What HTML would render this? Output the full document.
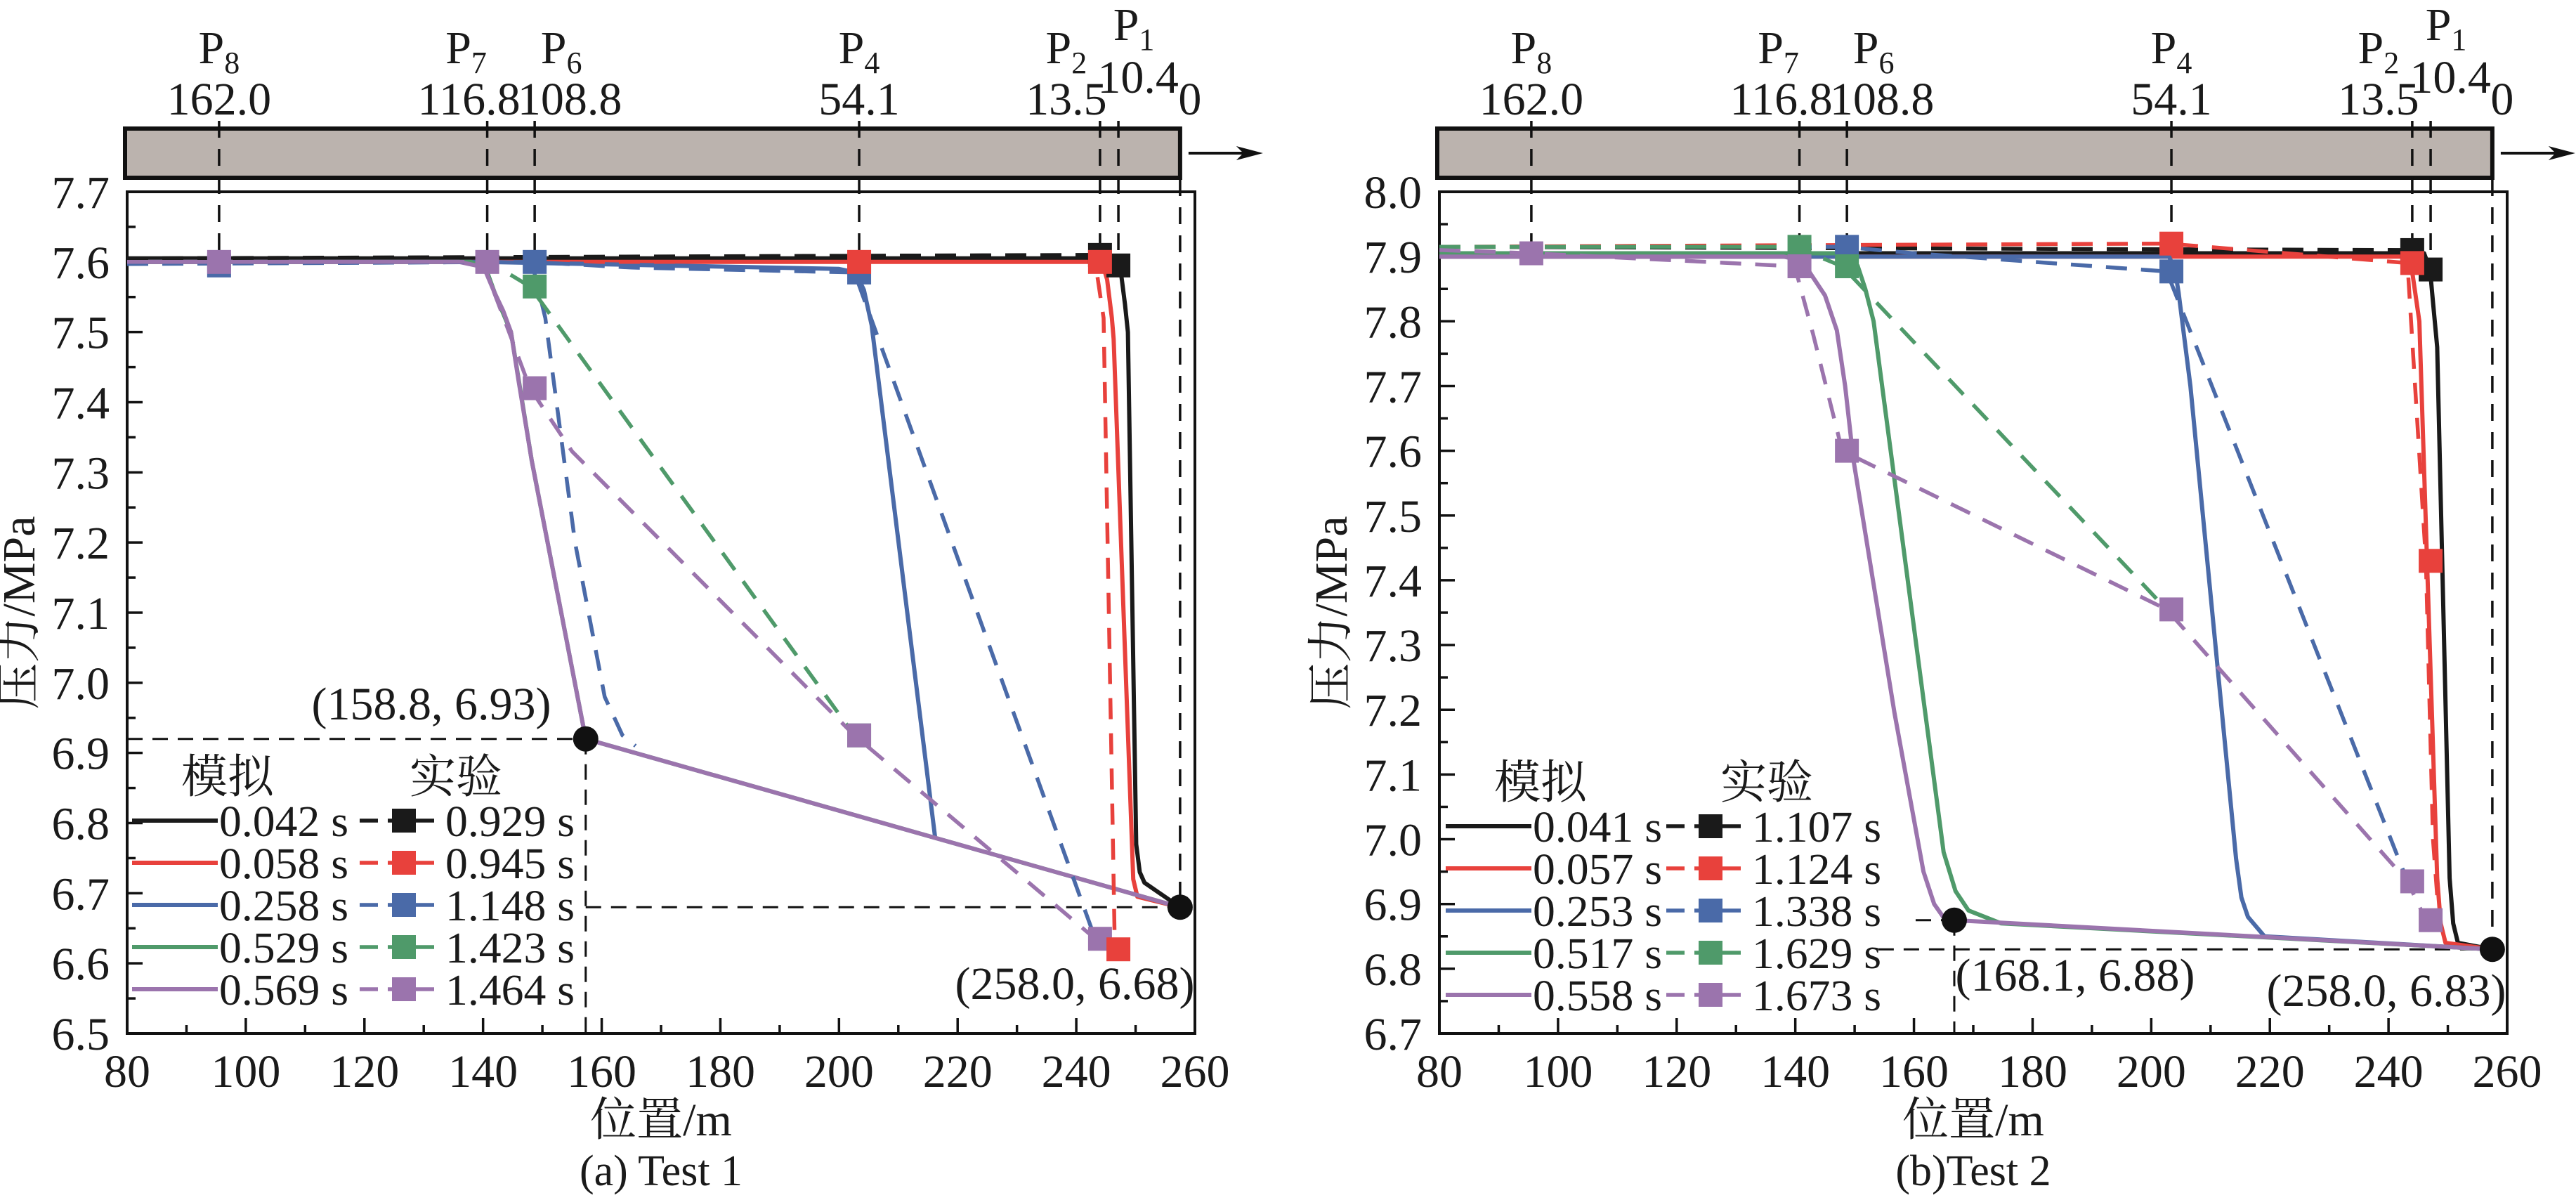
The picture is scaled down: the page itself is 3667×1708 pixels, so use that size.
<!DOCTYPE html>
<html><head><meta charset="utf-8">
<style>
html,body{margin:0;padding:0;background:#fff;}
svg{display:block;}
text{font-family:"Liberation Serif","Noto Serif CJK SC",serif;fill:#1a1a1a;}
.cjk{font-family:"Liberation Serif","Noto Serif CJK SC","Noto Sans CJK SC",serif;}
</style></head>
<body>
<svg id="chart" width="3667" height="1708" viewBox="0 0 3667 1708" xmlns="http://www.w3.org/2000/svg"></svg>
<script>
// ---- shared data ----
const sensorNames = ['8','7','6','4','2','1'];
const sensorDist = [162.0,116.8,108.8,54.1,13.5,10.4];
const pipeEnd = 257.5;
const xTicks = [80,100,120,140,160,180,200,220,240,260];
const seriesColors = ['#1a1a1a','#e8413c','#4a6aa8','#4f9a6a','#9b74ad'];
const seriesKeys = ['black','red','blue','green','purple'];

// ---- Test 1 data ----
const t1YTicks = [6.5,6.6,6.7,6.8,6.9,7.0,7.1,7.2,7.3,7.4,7.5,7.6,7.7];
const t1SimLabels = ['0.042 s','0.058 s','0.258 s','0.529 s','0.569 s'];
const t1ExpLabels = ['0.929 s','0.945 s','1.148 s','1.423 s','1.464 s'];
const t1SimBlack = [[80,7.605],[246.5,7.605],[247.6,7.58],[248.2,7.54],[248.7,7.50],[250.1,6.77],[250.7,6.73],[251.5,6.715],[257.5,6.68]];
const t1SimRed = [[80,7.60],[243.5,7.60],[244.5,7.595],[245.2,7.575],[246.0,7.52],[246.3,7.49],[249.6,6.72],[250.3,6.695],[257.5,6.68]];
const t1SimBlue = [[80,7.60],[140,7.60],[200,7.59],[202.8,7.585],[204.2,7.56],[205.5,7.51],[216.2,6.78]];
const t1SimGreen = [[80,7.60],[138,7.60],[140.5,7.59],[142,7.555],[144.7,7.50],[148.2,7.317],[157.3,6.92],[257.5,6.68]];
const t1SimPurple = [[80,7.60],[136,7.60],[138.8,7.595],[140.5,7.585],[141.9,7.557],[143.4,7.53],[144.7,7.50],[146,7.43],[148.2,7.317],[157.3,6.92],[257.5,6.68]];
const t1ExpBlack = [[80,7.605],[243.2,7.61],[246.3,7.595]];
const t1ExpRed = [[80,7.60],[243.2,7.60],[244.6,7.52],[246.5,6.62]];
const t1ExpBlue = [[80,7.597],[147.9,7.60],[165,7.592],[202.6,7.585],[243.2,6.635]];
const t1ExpBlue2 = [[148.5,7.59],[150.5,7.52],[155.5,7.2],[160.5,6.98],[163.5,6.925],[165.7,6.91]];
const t1ExpGreen = [[80,7.60],[139.9,7.60],[143,7.59],[147.9,7.565],[202.6,6.925]];
const t1ExpPurple = [[80,7.60],[139.9,7.60],[143.5,7.52],[147.9,7.42],[155,7.33],[202.6,6.925],[243.2,6.635],[246.3,6.62]];
const t1MarkBlack = [null,null,null,null,7.61,7.595];
const t1MarkRed = [null,null,null,7.60,7.60,6.62];
const t1MarkBlue = [7.595,null,7.60,7.585,null,null];
const t1MarkGreen = [null,null,7.565,6.925,null,null];
const t1MarkPurple = [7.60,7.60,7.42,6.925,6.635,null];
const t1Dot1 = [157.3,6.92];
const t1Dot2 = [257.5,6.68];

// ---- Test 2 data ----
const t2YTicks = [6.7,6.8,6.9,7.0,7.1,7.2,7.3,7.4,7.5,7.6,7.7,7.8,7.9,8.0];
const t2SimLabels = ['0.041 s','0.057 s','0.253 s','0.517 s','0.558 s'];
const t2ExpLabels = ['1.107 s','1.124 s','1.338 s','1.629 s','1.673 s'];
const t2SimBlack = [[80,7.905],[246,7.905],[247,7.88],[247.5,7.83],[248.2,7.76],[250.3,6.94],[250.9,6.87],[251.7,6.84],[257.5,6.83]];
const t2SimRed = [[80,7.90],[243,7.90],[243.7,7.89],[244.1,7.87],[245.2,7.80],[248.2,6.94],[248.8,6.87],[249.6,6.84],[257.5,6.83]];
const t2SimBlue = [[80,7.90],[203,7.90],[204,7.88],[204.6,7.845],[206.6,7.70],[214.3,6.97],[215.2,6.91],[216.3,6.88],[219.1,6.85],[257.5,6.83]];
const t2SimGreen = [[80,7.905],[148,7.905],[150.5,7.886],[151.8,7.85],[153.2,7.80],[165,6.98],[167,6.92],[169.2,6.89],[174.7,6.87],[257.5,6.83]];
const t2SimPurple = [[80,7.90],[138,7.90],[140.5,7.895],[142.1,7.88],[145,7.84],[147,7.786],[148.4,7.70],[149.8,7.586],[156.7,7.196],[161.6,6.95],[163.4,6.90],[165,6.879],[166.8,6.875],[257.5,6.83]];
const t2ExpBlack = [[80,7.915],[243.2,7.91],[246.3,7.88]];
const t2ExpRed = [[80,7.915],[202.6,7.92],[243.2,7.89],[246.3,7.43],[247.5,7.0],[248.8,6.84]];
const t2ExpBlue = [[80,7.915],[147.9,7.915],[160,7.905],[202.6,7.877],[243.2,6.935]];
const t2ExpGreen = [[80,7.915],[139.9,7.915],[147.9,7.885],[202.6,7.355]];
const t2ExpPurple = [[80,7.91],[95.5,7.905],[139.9,7.885],[143,7.78],[147.9,7.60],[202.6,7.355],[243.2,6.935],[246.3,6.875]];
const t2MarkBlack = [null,null,null,null,7.91,7.88];
const t2MarkRed = [null,null,null,7.92,7.89,7.43];
const t2MarkBlue = [null,null,7.915,7.877,null,null];
const t2MarkGreen = [null,7.915,7.885,null,null,null];
const t2MarkPurple = [7.905,7.885,7.60,7.355,6.935,6.875];
const t2Dot1 = [166.8,6.875];
const t2Dot2 = [257.5,6.83];

const NS = 'http://www.w3.org/2000/svg';
const svg = document.getElementById('chart');
function mk(tag, attrs, parent){
  const e = document.createElementNS(NS, tag);
  for (const k in attrs) e.setAttribute(k, attrs[k]);
  (parent||svg).appendChild(e);
  return e;
}
const FS = 66;
const LFS = 62;
const labelOffsets = {'8':[0,0],'7':[-30,-26],'6':[38,50],'4':[0,0],'2':[-48,-48],'1':[22,28]};

function drawPanel(p){
  const g = mk('g', {});
  
  
  const X = v => p.left + (v - 80) * (p.right - p.left) / 180;
  const Y = v => p.bottom - (v - p.yMin) * (p.bottom - p.top) / (p.yMax - p.yMin);
  const xEnd = X(pipeEnd);

  const bar = mk('rect', {x:p.left-3, y:183, width:xEnd-p.left+3, height:70, fill:'#bbb3ae', stroke:'#111', 'stroke-width':6}, g);
  
  
  const arrow = mk('line', {x1:xEnd+12, y1:218, x2:xEnd+90, y2:218, stroke:'#111', 'stroke-width':4}, g);
  
  
  mk('polygon', {points:`${xEnd+80},208 ${xEnd+118},218 ${xEnd+80},228 ${xEnd+90},218`, fill:'#111'}, g);

  sensorDist.forEach((d,i)=>{
    const sx = X(pipeEnd - d);
    const ln = mk('line', {x1:sx, y1:172, x2:sx, y2:Y(p.sensorLineEnd), stroke:'#111', 'stroke-width':3.5, 'stroke-dasharray':'24 16'}, g);
    
    
    const off = labelOffsets[sensorNames[i]];
    let py = 90, ny = 163;
    if (sensorNames[i]==='1'){ py = 57; ny = 132; }
    const t = mk('text', {x:sx+off[0], y:py, 'font-size':FS, 'text-anchor':'middle'}, g);
    t.textContent = 'P';
    const sub = mk('tspan', {'font-size':44, dy:14}, t);
    sub.textContent = sensorNames[i];
    
    
    const n = mk('text', {x:sx+off[1], y:ny, 'font-size':FS, 'text-anchor':'middle'}, g);
    n.textContent = d.toFixed(1);
    
    
  });
  const zero = mk('text', {x:xEnd+14, y:163, 'font-size':FS, 'text-anchor':'middle'}, g);
  zero.textContent = '0';
  
  
  const endLine = mk('line', {x1:xEnd, y1:255, x2:xEnd, y2:Y(p.dot2[1]), stroke:'#111', 'stroke-width':3.5, 'stroke-dasharray':'24 16'}, g);
  
  

  const frame = mk('rect', {x:p.left, y:p.top, width:p.right-p.left, height:p.bottom-p.top, fill:'none', stroke:'#111', 'stroke-width':4}, g);
  
  

  xTicks.forEach((v,i)=>{
    const tx = X(v);
    mk('line', {x1:tx, y1:p.bottom, x2:tx, y2:p.bottom-22, stroke:'#111', 'stroke-width':3.5}, g);
    if (i < xTicks.length-1) { const mx = X(v+10); mk('line', {x1:mx, y1:p.bottom, x2:mx, y2:p.bottom-12, stroke:'#111', 'stroke-width':3.5}, g); }
    const t = mk('text', {x:tx, y:p.bottom+76, 'font-size':FS, 'text-anchor':'middle'}, g);
    t.textContent = v;
    
    
  });
  p.yTicks.forEach((v,i)=>{
    const ty = Y(v);
    mk('line', {x1:p.left, y1:ty, x2:p.left+22, y2:ty, stroke:'#111', 'stroke-width':3.5}, g);
    if (i < p.yTicks.length-1) { const my = Y(v+0.05); mk('line', {x1:p.left, y1:my, x2:p.left+12, y2:my, stroke:'#111', 'stroke-width':3.5}, g); }
    const t = mk('text', {x:p.left-25, y:ty+23, 'font-size':FS, 'text-anchor':'end'}, g);
    t.textContent = v.toFixed(1);
    
    
  });
  const yt = mk('text', {x:0, y:0, 'font-size':FS, 'text-anchor':'middle', transform:`translate(${p.left-132},${(p.top+p.bottom)/2}) rotate(-90)`, class:'cjk'}, g);
  yt.textContent = '压力/MPa';
  
  
  const xt = mk('text', {x:(p.left+p.right)/2, y:1616, 'font-size':FS, 'text-anchor':'middle', class:'cjk'}, g);
  xt.textContent = '位置/m';
  
  
  const cap = mk('text', {x:(p.left+p.right)/2, y:1687, 'font-size':62, 'text-anchor':'middle'}, g);
  cap.textContent = p.caption;
  
  

  const d1x = X(p.dot1[0]), d1y = Y(p.dot1[1]), d2x = X(p.dot2[0]), d2y = Y(p.dot2[1]);
  p.refLines(X,Y,d1x,d1y,d2x,d2y).forEach(l=>{
    const r = mk('line', {x1:l[0], y1:l[1], x2:l[2], y2:l[3], stroke:'#111', 'stroke-width':3, 'stroke-dasharray':'22 14'}, g);
    
    
  });

  const pts = arr => arr.map(q=>X(q[0]).toFixed(1)+','+Y(q[1]).toFixed(1)).join(' ');
  p.sims.forEach((s,i)=>{
    const pl = mk('polyline', {points:pts(s), fill:'none', stroke:seriesColors[i], 'stroke-width':6, 'stroke-linejoin':'round'}, g);
    
    
  });
  p.exps.forEach((s,i)=>{
    const pl = mk('polyline', {points:pts(s.data), fill:'none', stroke:seriesColors[s.c], 'stroke-width':5.5, 'stroke-dasharray':'30 20', 'stroke-linejoin':'round'}, g);
    
    
  });
  [2,3,4,0,1].forEach(ci=>{
    p.marks[ci].forEach((v,j)=>{
      if (v===null) return;
      const mx = X(pipeEnd - sensorDist[j]), my = Y(v);
      const r = mk('rect', {x:mx-17, y:my-17, width:34, height:34, fill:seriesColors[ci]}, g);
      
      
    });
  });
  [[d1x,d1y],[d2x,d2y]].forEach(d=>{
    const c = mk('circle', {cx:d[0], cy:d[1], r:18, fill:'#111'}, g);
    
    
  });
  p.annots.forEach(a=>{
    const t = mk('text', {x:a[0], y:a[1], 'font-size':FS, 'text-anchor':'middle'}, g);
    t.textContent = a[2];
    
    
  });

  const hs = mk('text', {x:p.legSimX, y:p.legHeadY, 'font-size':FS, 'text-anchor':'middle', class:'cjk'}, g);
  hs.textContent = '模拟';
  
  
  const he = mk('text', {x:p.legExpX, y:p.legHeadY, 'font-size':FS, 'text-anchor':'middle', class:'cjk'}, g);
  he.textContent = '实验';
  
  
  for (let i=0;i<5;i++){
    const ry = p.legRow0 + i*60;
    const e = mk('g', {}, g);
    
    
    mk('line', {x1:p.legLine0, y1:ry, x2:p.legLine0+122, y2:ry, stroke:seriesColors[i], 'stroke-width':6}, e);
    const t1 = mk('text', {x:p.legLine0+124, y:ry+22, 'font-size':LFS, textLength:184, lengthAdjust:'spacingAndGlyphs'}, e);
    t1.textContent = p.simLabels[i];
    mk('line', {x1:p.legDash0, y1:ry, x2:p.legDash0+118, y2:ry, stroke:seriesColors[i], 'stroke-width':5.5, 'stroke-dasharray':'26 14'}, e);
    mk('rect', {x:p.legDash0+46, y:ry-17, width:34, height:34, fill:seriesColors[i]}, e);
    const t2 = mk('text', {x:p.legDash0+122, y:ry+22, 'font-size':LFS, textLength:184, lengthAdjust:'spacingAndGlyphs'}, e);
    t2.textContent = p.expLabels[i];
  }
}

drawPanel({
  id:'panel-test1', left:181, right:1701, top:273, bottom:1471, yMin:6.5, yMax:7.7, yTicks:t1YTicks,
  caption:'(a) Test 1', sensorLineEnd:7.60,
  sims:[t1SimBlack,t1SimRed,t1SimBlue,t1SimGreen,t1SimPurple],
  exps:[{data:t1ExpBlack,c:0},{data:t1ExpRed,c:1},{data:t1ExpBlue,c:2},{data:t1ExpBlue2,c:2},{data:t1ExpGreen,c:3},{data:t1ExpPurple,c:4}],
  marks:[t1MarkBlack,t1MarkRed,t1MarkBlue,t1MarkGreen,t1MarkPurple],
  dot1:t1Dot1, dot2:t1Dot2,
  refLines:(X,Y,d1x,d1y,d2x,d2y)=>[[181,d1y,d1x,d1y],[d1x,d1y,d1x,1471],[d1x,d2y,d2x,d2y]],
  annots:[[614,1024,'(158.8, 6.93)'],[1530,1422,'(258.0, 6.68)']],
  simLabels:t1SimLabels, expLabels:t1ExpLabels,
  legSimX:324, legExpX:649, legHeadY:1128, legRow0:1168, legLine0:188, legDash0:512
});
drawPanel({
  id:'panel-test2', left:2049, right:3569, top:273, bottom:1471, yMin:6.7, yMax:8.0, yTicks:t2YTicks,
  caption:'(b)Test 2', sensorLineEnd:7.91,
  sims:[t2SimBlack,t2SimRed,t2SimBlue,t2SimGreen,t2SimPurple],
  exps:[{data:t2ExpBlack,c:0},{data:t2ExpRed,c:1},{data:t2ExpBlue,c:2},{data:t2ExpGreen,c:3},{data:t2ExpPurple,c:4}],
  marks:[t2MarkBlack,t2MarkRed,t2MarkBlue,t2MarkGreen,t2MarkPurple],
  dot1:t2Dot1, dot2:t2Dot2,
  refLines:(X,Y,d1x,d1y,d2x,d2y)=>[[d1x-55,d1y,d1x,d1y],[d1x,d1y,d1x,1471],[X(154),d2y,d2x,d2y]],
  annots:[[2954,1410,'(168.1, 6.88)'],[3397,1432,'(258.0, 6.83)']],
  simLabels:t2SimLabels, expLabels:t2ExpLabels,
  legSimX:2193, legExpX:2515, legHeadY:1136, legRow0:1176, legLine0:2058, legDash0:2372
});
</script>
</body></html>
